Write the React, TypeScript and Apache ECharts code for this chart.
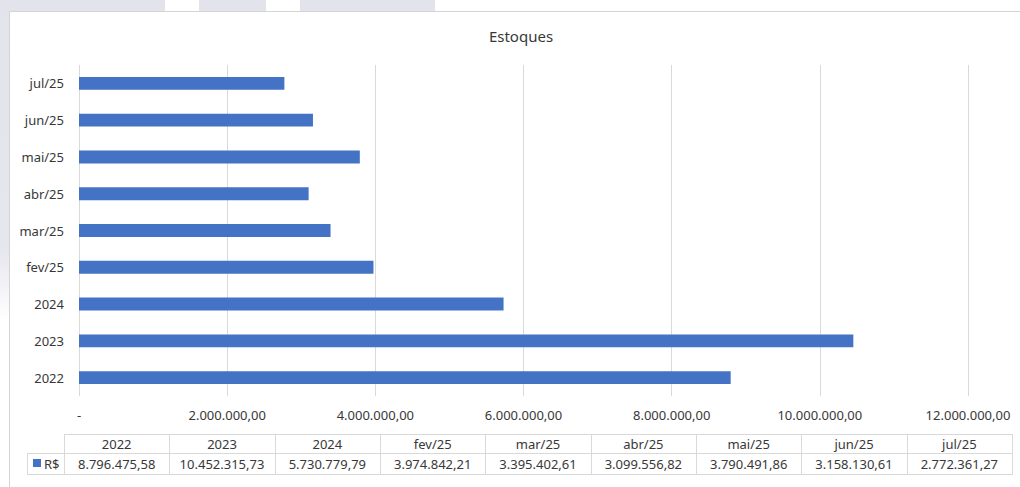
import React, { useEffect, useRef } from "react";
import * as echarts from "echarts";

const categories = ["2022", "2023", "2024", "fev/25", "mar/25", "abr/25", "mai/25", "jun/25", "jul/25"];
const values = [8796475.58, 10452315.73, 5730779.79, 3974842.21, 3395402.61, 3099556.82, 3790491.86, 3158130.61, 2772361.27];
const seriesName = "R$";
const chartTitle = "Estoques";
const axisMax = 12000000;
const axisInterval = 2000000;

const FONT = "'Noto Sans', sans-serif";
const TEXT = "#383838";
const BORDER = "#d9d9d9";
const BAR = "#4472C4";

function fmtBR(v: number): string {
  const neg = v < 0;
  const a = Math.abs(v);
  const cents = Math.round(a * 100);
  const intPart = Math.floor(cents / 100).toString();
  const dec = (cents % 100).toString().padStart(2, "0");
  const withDots = intPart.replace(/\B(?=(\d{3})+(?!\d))/g, ".");
  return (neg ? "-" : "") + withDots + "," + dec;
}

export default function App() {
  const ref = useRef<HTMLDivElement>(null);
  useEffect(() => {
    if (!ref.current) return;
    const chart = echarts.init(ref.current, undefined, { renderer: "svg" });

    const tableLeft = 64;
    const tableRight = 1012;
    const legendLeft = 27;
    const colW = (tableRight - tableLeft) / categories.length;
    const hTop = 434;
    const hMid = 453;
    const hBot = 474;

    const graphics: any[] = [];
    const strips = [[0, 165], [199, 266], [300, 435]];
    strips.forEach(([a, b]) => {
      graphics.push({ type: "rect", silent: true, shape: { x: a, y: 0, width: b - a, height: 12 }, style: { fill: "#e3e3ec" } });
    });
    graphics.push({
      type: "rect", silent: true, shape: { x: 0, y: 12, width: 10, height: 475 },
      style: {
        fill: new echarts.graphic.LinearGradient(0, 0, 0, 1, [
          { offset: 0, color: "#e3e3ec" },
          { offset: 0.5, color: "#e6e6ee" },
          { offset: 0.65, color: "#ffffff" },
          { offset: 1, color: "#ffffff" },
        ]),
      },
    });
    graphics.push({ type: "line", silent: true, shape: { x1: 9.5, y1: 11.5, x2: 1020, y2: 11.5 }, style: { stroke: "#d4d4d4", lineWidth: 1 } });
    graphics.push({ type: "line", silent: true, shape: { x1: 9.5, y1: 11.5, x2: 9.5, y2: 487 }, style: { stroke: "#d4d4d4", lineWidth: 1 } });

    graphics.push({
      type: "text", silent: true, x: 521, y: 36,
      style: { text: chartTitle, fill: TEXT, font: `15px ${FONT}`, align: "center", verticalAlign: "middle" },
    });

    const lines: number[][] = [];
    lines.push([tableLeft, hTop, tableRight, hTop]);
    lines.push([legendLeft, hMid, tableRight, hMid]);
    lines.push([legendLeft, hBot, tableRight, hBot]);
    lines.push([legendLeft, hMid, legendLeft, hBot]);
    for (let i = 0; i <= categories.length; i++) {
      const x = Math.round(tableLeft + i * colW);
      lines.push([x, hTop, x, hBot]);
    }
    lines.forEach(([x1, y1, x2, y2]) => {
      const vert = x1 === x2;
      graphics.push({
        type: "line", silent: true,
        shape: vert
          ? { x1: x1 + 0.5, y1: y1, x2: x2 + 0.5, y2: y2 + 1 }
          : { x1: x1, y1: y1 + 0.5, x2: x2 + 1, y2: y2 + 0.5 },
        style: { stroke: BORDER, lineWidth: 1 },
      });
    });
    categories.forEach((c, i) => {
      const cx = tableLeft + (i + 0.5) * colW;
      graphics.push({
        type: "text", silent: true, x: cx, y: (hTop + hMid) / 2 + 0.5,
        style: { text: c, fill: TEXT, font: `13px ${FONT}`, align: "center", verticalAlign: "middle" },
      });
      graphics.push({
        type: "text", silent: true, x: cx, y: (hMid + hBot) / 2 + 0.5,
        style: { text: fmtBR(values[i]), fill: TEXT, font: `13px ${FONT}`, align: "center", verticalAlign: "middle" },
      });
    });
    graphics.push({ type: "rect", silent: true, shape: { x: 33, y: 459, width: 8, height: 8 }, style: { fill: BAR } });
    graphics.push({
      type: "text", silent: true, x: 44, y: (hMid + hBot) / 2 + 0.5,
      style: { text: seriesName, fill: TEXT, font: `13px ${FONT}`, align: "left", verticalAlign: "middle" },
    });

    chart.setOption({
      animation: false,
      backgroundColor: "#ffffff",
      grid: { left: 79, right: 1020 - 968, top: 65, bottom: 487 - 396, containLabel: false },
      xAxis: {
        type: "value", min: 0, max: axisMax, interval: axisInterval,
        axisLine: { show: false }, axisTick: { show: false },
        splitLine: { show: true, lineStyle: { color: BORDER, width: 1 } },
        axisLabel: {
          color: TEXT, fontFamily: FONT, fontSize: 13, margin: 12,
          formatter: (v: number) => (v === 0 ? "-" : fmtBR(v)),
        },
      },
      yAxis: {
        type: "category", data: categories,
        axisLine: { show: false }, axisTick: { show: false },
        axisLabel: { color: TEXT, fontFamily: FONT, fontSize: 13, margin: 15 },
      },
      series: [{
        name: seriesName, type: "bar", data: values, barWidth: "35%",
        itemStyle: { color: BAR },
      }],
      graphic: graphics,
    });
    return () => chart.dispose();
  }, []);
  return <div ref={ref} style={{ position: "fixed", left: 0, top: 0, width: 1020, height: 487 }} />;
}
